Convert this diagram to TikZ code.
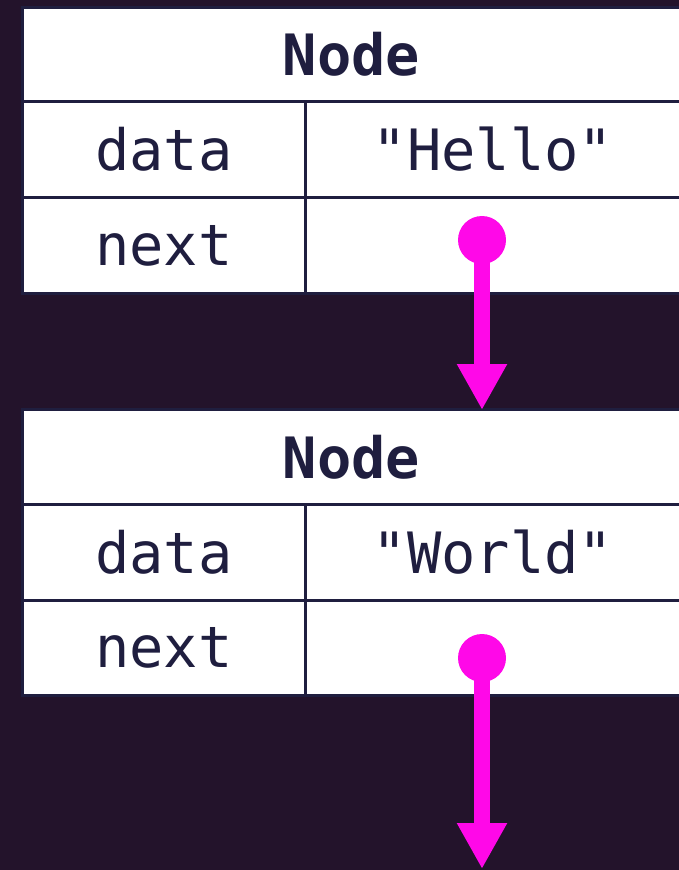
\documentclass[tikz,border=0pt]{standalone}
\usepackage{fontspec}
\setmonofont{DejaVu Sans Mono}
\usetikzlibrary{arrows.meta}
\definecolor{bg}{HTML}{23132B}
\definecolor{ink}{HTML}{1F1E3F}
\definecolor{mag}{HTML}{FF08E8}
\tikzset{
  cell/.style={draw=ink, line width=2.5pt, fill=white, anchor=north west, inner sep=0pt, outer sep=0pt, text=ink,
    font=\fontsize{57}{60}\selectfont\ttfamily},
  hdr/.style={cell, minimum width=658pt, font=\fontsize{57}{60}\selectfont\ttfamily\bfseries},
  lab/.style={cell, minimum width=283pt},
  val/.style={cell, minimum width=375pt},
  dot/.style={circle, fill=mag, minimum size=48pt, inner sep=0pt},
  ptr/.style={draw=mag, line width=16pt, -{Triangle[width=47pt,length=46pt]}}
}
\begin{document}
\begin{tikzpicture}[x=1pt,y=-1pt]
\fill[bg] (0,0) rectangle (679,870);
\useasboundingbox (0,0) rectangle (679,870);
% first node
\node[hdr, minimum height=94pt] (h1) at (22.5,7.5) {Node};
\node[lab, minimum height=96pt] (d1) at (22.5,101.5) {data};
\node[val, minimum height=96pt] (dv1) at (305.5,101.5) {"Hello"};
\node[lab, minimum height=96pt] (n1) at (22.5,197.5) {next};
\node[val, minimum height=96pt] (nv1) at (305.5,197.5) {};
% second node
\node[hdr, minimum height=95pt] (h2) at (22.5,409.5) {Node};
\node[lab, minimum height=96pt] (d2) at (22.5,504.5) {data};
\node[val, minimum height=96pt] (dv2) at (305.5,504.5) {"World"};
\node[lab, minimum height=95pt] (n2) at (22.5,600.5) {next};
\node[val, minimum height=95pt] (nv2) at (305.5,600.5) {};
% pointers
\node[dot] (p1) at (482,240) {};
\node[dot] (p2) at (482,658) {};
\coordinate (t1) at (482,410);
\coordinate (t2) at (482,869);
\draw[ptr] (p1.center) -- (t1);
\draw[ptr] (p2.center) -- (t2);
\end{tikzpicture}
\end{document}
